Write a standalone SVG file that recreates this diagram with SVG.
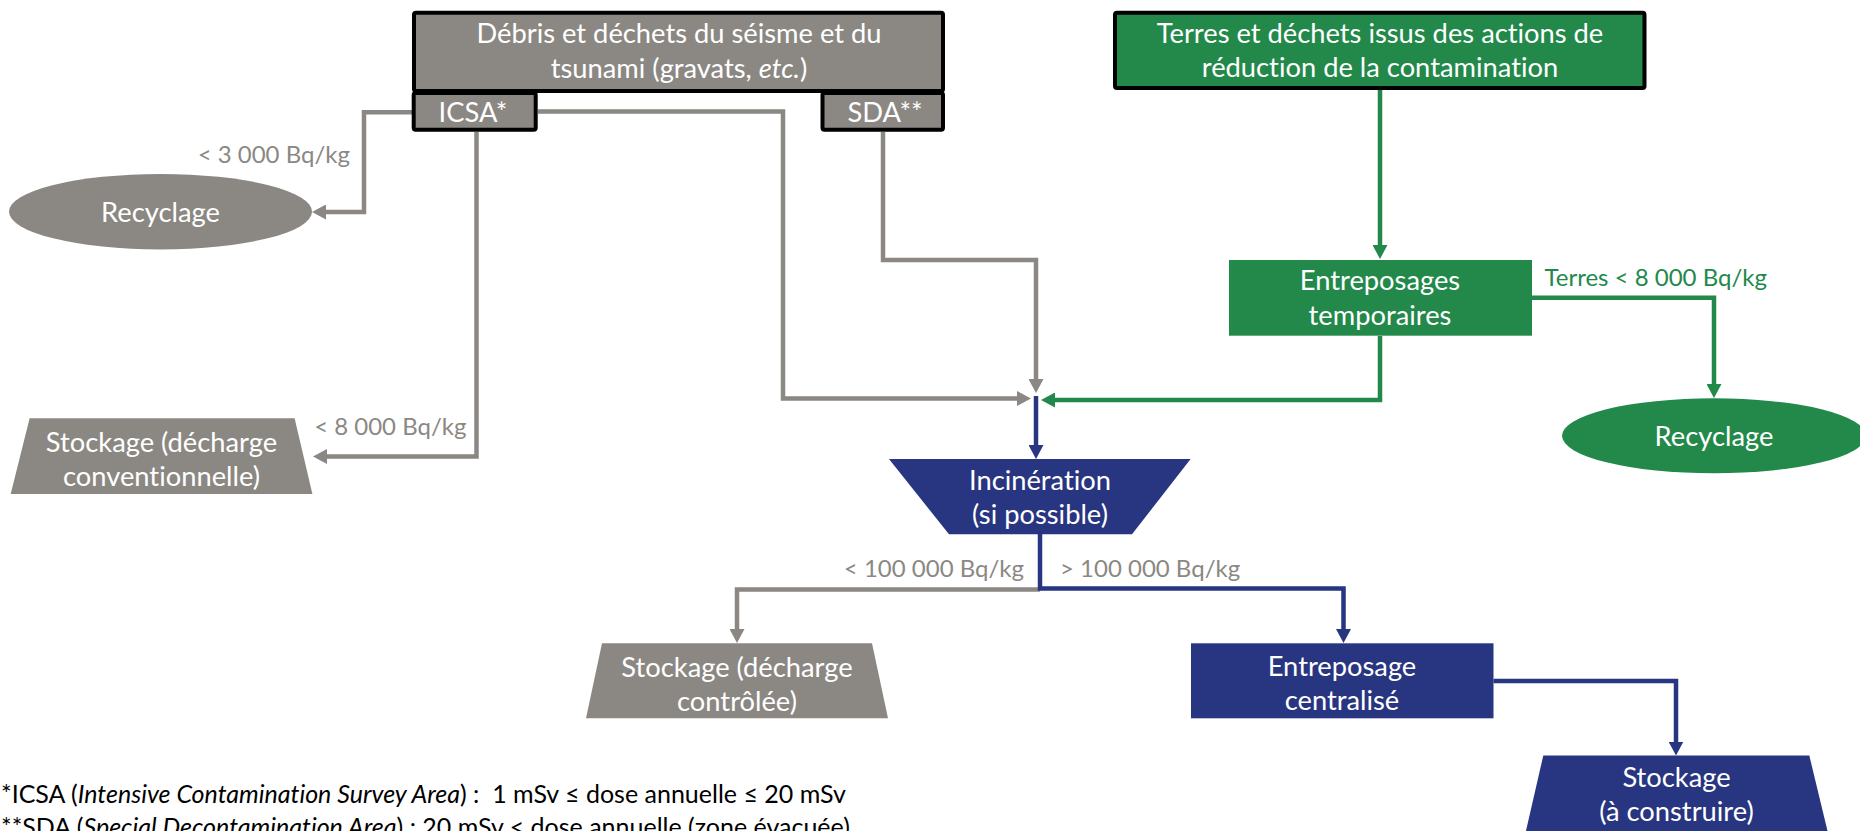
<svg xmlns="http://www.w3.org/2000/svg" width="1860" height="831" viewBox="0 0 1860 831">
  <style>
    text { font-family: Lato, "Liberation Sans", sans-serif; font-variant-ligatures: none; font-feature-settings: "liga" 0, "clig" 0; }
    .node { font-size: 27.3px; fill: #ffffff; text-anchor: middle; }
    .lbl { font-size: 24px; }
    .lbl-grey { fill: #8b8883; }
    .lbl-green { fill: #22894a; }
    .note { font-size: 25px; fill: #000000; }
    .grey { fill: #8b8883; }
    .green { fill: #22894a; }
    .blue { fill: #283580; }
    .framed { stroke: #000000; stroke-width: 4; }
    .wire { fill: none; stroke-width: 4.5; stroke-linejoin: miter; }
    .w-grey { stroke: #8b8883; }
    .w-green { stroke: #22894a; }
    .w-blue { stroke: #283580; }
  </style>
  <defs>
    <marker id="arrow-grey" viewBox="0 0 14 15" refX="6" refY="7.5" markerWidth="14" markerHeight="15" markerUnits="userSpaceOnUse" orient="auto">
      <path d="M0,0 L14,7.5 L0,15 Z" fill="#8b8883"/>
    </marker>
    <marker id="arrow-green" viewBox="0 0 14 15" refX="6" refY="7.5" markerWidth="14" markerHeight="15" markerUnits="userSpaceOnUse" orient="auto">
      <path d="M0,0 L14,7.5 L0,15 Z" fill="#22894a"/>
    </marker>
    <marker id="arrow-blue" viewBox="0 0 14 15" refX="6" refY="7.5" markerWidth="14" markerHeight="15" markerUnits="userSpaceOnUse" orient="auto">
      <path d="M0,0 L14,7.5 L0,15 Z" fill="#283580"/>
    </marker>
  </defs>

  <!-- connectors -->
  <g id="connectors">
    <path class="wire w-grey" d="M412 112.3 H364 V212 H320" marker-end="url(#arrow-grey)"/>
    <path class="wire w-grey" d="M476.5 132 V456.5 H321" marker-end="url(#arrow-grey)"/>
    <path class="wire w-grey" d="M538 111.5 H783 V398.5 H1023" marker-end="url(#arrow-grey)"/>
    <path class="wire w-grey" d="M883 132 V260 H1036 V385" marker-end="url(#arrow-grey)"/>
    <path class="wire w-green" d="M1380 90 V251" marker-end="url(#arrow-green)"/>
    <path class="wire w-green" d="M1532 297.7 H1714 V390" marker-end="url(#arrow-green)"/>
    <path class="wire w-green" d="M1380 336 V400 H1049" marker-end="url(#arrow-green)"/>
    <path class="wire w-blue" d="M1036 396 V451" marker-end="url(#arrow-blue)"/>
    <path class="wire w-grey" d="M1040 589.5 H737 V635" marker-end="url(#arrow-grey)"/>
    <path class="wire w-blue" d="M1040 534 V588.5 H1343.5 V635" marker-end="url(#arrow-blue)"/>
    <path class="wire w-blue" d="M1493.5 681 H1676 V747.5" marker-end="url(#arrow-blue)"/>
    <text class="lbl lbl-grey" x="350" y="163" text-anchor="end">&lt; 3 000 Bq/kg</text>
    <text class="lbl lbl-grey" x="466.5" y="435" text-anchor="end">&lt; 8 000 Bq/kg</text>
    <text class="lbl lbl-green" x="1544.5" y="285.5">Terres &lt; 8 000 Bq/kg</text>
    <text class="lbl lbl-grey" x="1024" y="576.5" text-anchor="end">&lt; 100 000 Bq/kg</text>
    <text class="lbl lbl-grey" x="1060" y="576.5">&gt; 100 000 Bq/kg</text>
  </g>

  <!-- debris source -->
  <g id="debris">
    <rect class="grey framed" x="414" y="12.7" width="529" height="78.3" rx="2"/>
    <text class="node" x="679" y="43">Débris et déchets du séisme et du</text>
    <text class="node" x="679" y="78">tsunami (gravats, <tspan font-style="italic">etc.</tspan>)</text>
  </g>
  <g id="icsa">
    <rect class="grey framed" x="413.7" y="93" width="122" height="36.7" rx="2"/>
    <text class="node" x="473" y="122">ICSA*</text>
  </g>
  <g id="sda">
    <rect class="grey framed" x="822.5" y="93" width="120.5" height="36.7" rx="2"/>
    <text class="node" x="885" y="122">SDA**</text>
  </g>

  <!-- decontamination source -->
  <g id="terres">
    <rect class="green framed" x="1115" y="12.7" width="529.5" height="75.3" rx="2"/>
    <text class="node" x="1380" y="43">Terres et déchets issus des actions de</text>
    <text class="node" x="1380" y="77">réduction de la contamination</text>
  </g>

  <g id="recyclage-grey">
    <ellipse class="grey" cx="160.5" cy="211.7" rx="151.5" ry="37.7"/>
    <text class="node" x="160.5" y="222">Recyclage</text>
  </g>

  <g id="stockage-conventionnelle">
    <polygon class="grey" points="29.6,418.3 294.6,418.3 312.4,494 10.7,494"/>
    <text class="node" x="161.5" y="451.5">Stockage (décharge</text>
    <text class="node" x="161.5" y="486">conventionnelle)</text>
  </g>

  <g id="entreposages-temporaires">
    <rect class="green" x="1229" y="260" width="303" height="75.7"/>
    <text class="node" x="1380" y="290">Entreposages</text>
    <text class="node" x="1380" y="325">temporaires</text>
  </g>

  <g id="recyclage-green">
    <ellipse class="green" cx="1714" cy="435.8" rx="152" ry="37.5"/>
    <text class="node" x="1714" y="446">Recyclage</text>
  </g>

  <g id="incineration">
    <polygon class="blue" points="889,459 1190.6,459 1132,534.3 949,534.3"/>
    <text class="node" x="1040" y="489.5">Incinération</text>
    <text class="node" x="1040" y="524">(si possible)</text>
  </g>

  <g id="stockage-controlee">
    <polygon class="grey" points="602,643.3 872,643.3 888,718.3 586,718.3"/>
    <text class="node" x="737" y="676.5">Stockage (décharge</text>
    <text class="node" x="737" y="711">contrôlée)</text>
  </g>

  <g id="entreposage-centralise">
    <rect class="blue" x="1191" y="643.3" width="302.5" height="75"/>
    <text class="node" x="1342" y="675.5">Entreposage</text>
    <text class="node" x="1342" y="709.5">centralisé</text>
  </g>

  <g id="stockage-construire">
    <polygon class="blue" points="1543.3,755.5 1809.3,755.5 1828,833 1525.5,833"/>
    <text class="node" x="1676.5" y="786.5">Stockage</text>
    <text class="node" x="1676.5" y="821">(à construire)</text>
  </g>

  <!-- footnotes -->
  <g id="footnotes">
    <text class="note" x="1" y="803">*ICSA (<tspan font-style="italic">Intensive Contamination Survey Area</tspan>) : &#160;1 mSv ≤ dose annuelle ≤ 20 mSv</text>
    <text class="note" x="1" y="835.5">**SDA (<tspan font-style="italic">Special Decontamination Area</tspan>) : 20 mSv &lt; dose annuelle (zone évacuée)</text>
  </g>
</svg>
